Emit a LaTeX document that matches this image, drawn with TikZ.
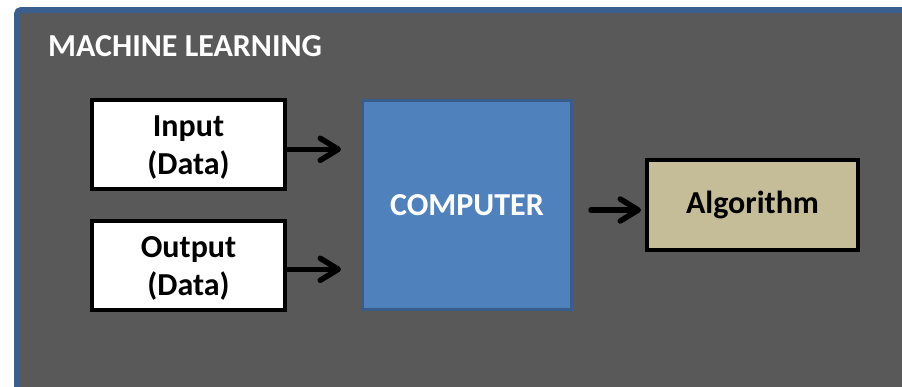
\documentclass[tikz,border=0pt]{standalone}
\usepackage{fontspec}
\setmainfont{Carlito}
\usetikzlibrary{arrows.meta,positioning}
\definecolor{panelgray}{HTML}{595959}
\definecolor{panelblue}{HTML}{3A5F8F}
\definecolor{compfill}{HTML}{4F81BD}
\definecolor{compedge}{HTML}{385D8A}
\definecolor{algofill}{HTML}{C4BD97}
\tikzset{
  bigbold/.style={font=\bfseries\fontsize{32}{38}\selectfont},
  databox/.style={draw=black, line width=4pt, fill=white, minimum width=193pt,
    minimum height=89pt},
  datatext/.style={bigbold, align=center, inner sep=0pt},
  compbox/.style={bigbold, draw=compedge, line width=3pt, fill=compfill,
    minimum width=209pt, minimum height=209pt, text=white},
  algobox/.style={bigbold, draw=black, line width=4pt, fill=algofill,
    minimum width=211pt, minimum height=90pt},
  flow/.style={line width=5.5pt, line cap=round,
    -{Straight Barb[length=18pt,width=22pt,line cap=round,line join=round]}},
}
\begin{document}
\begin{tikzpicture}[x=1pt,y=-1pt]
  \useasboundingbox (0,0) rectangle (902,386);
  % background panel, running past the right and bottom edges
  \draw[panelblue, line width=6pt, fill=panelgray, rounded corners=4pt]
    (17,10) rectangle (940,420);
  \node[bigbold, anchor=west, inner sep=0pt, text=white]
    (title) at (48,46) {MACHINE LEARNING};
  % boxes
  \node[databox] (in)   at (188.5,144.5) {};
  \node[datatext] (inText) at ([yshift=-3pt]in.center) {Input\\(Data)};
  \node[databox] (out)  at (188.5,265)   {};
  \node[datatext] (outText) at ([yshift=-3pt]out.center) {Output\\(Data)};
  \node[compbox] (comp) at (467,205)     {COMPUTER};
  \node[algobox] (algo) at (752.5,205)   {Algorithm};
  % connectors
  \coordinate (inEnd)  at ([xshift=-20pt]comp.west |- in.east);
  \coordinate (outEnd) at ([xshift=-20pt]comp.west |- out.east);
  \coordinate (algStart) at ([xshift=18pt]comp.east |- algo.west);
  \draw[flow] ([yshift=-4.8pt]in.east) -- ([yshift=-4.8pt]inEnd);
  \draw[flow] ([yshift=-4.3pt]out.east) -- ([yshift=-4.3pt]outEnd);
  \draw[flow] ([yshift=-5pt]algStart) -- ([yshift=-5pt,xshift=-4pt]algo.west);
\end{tikzpicture}
\end{document}
